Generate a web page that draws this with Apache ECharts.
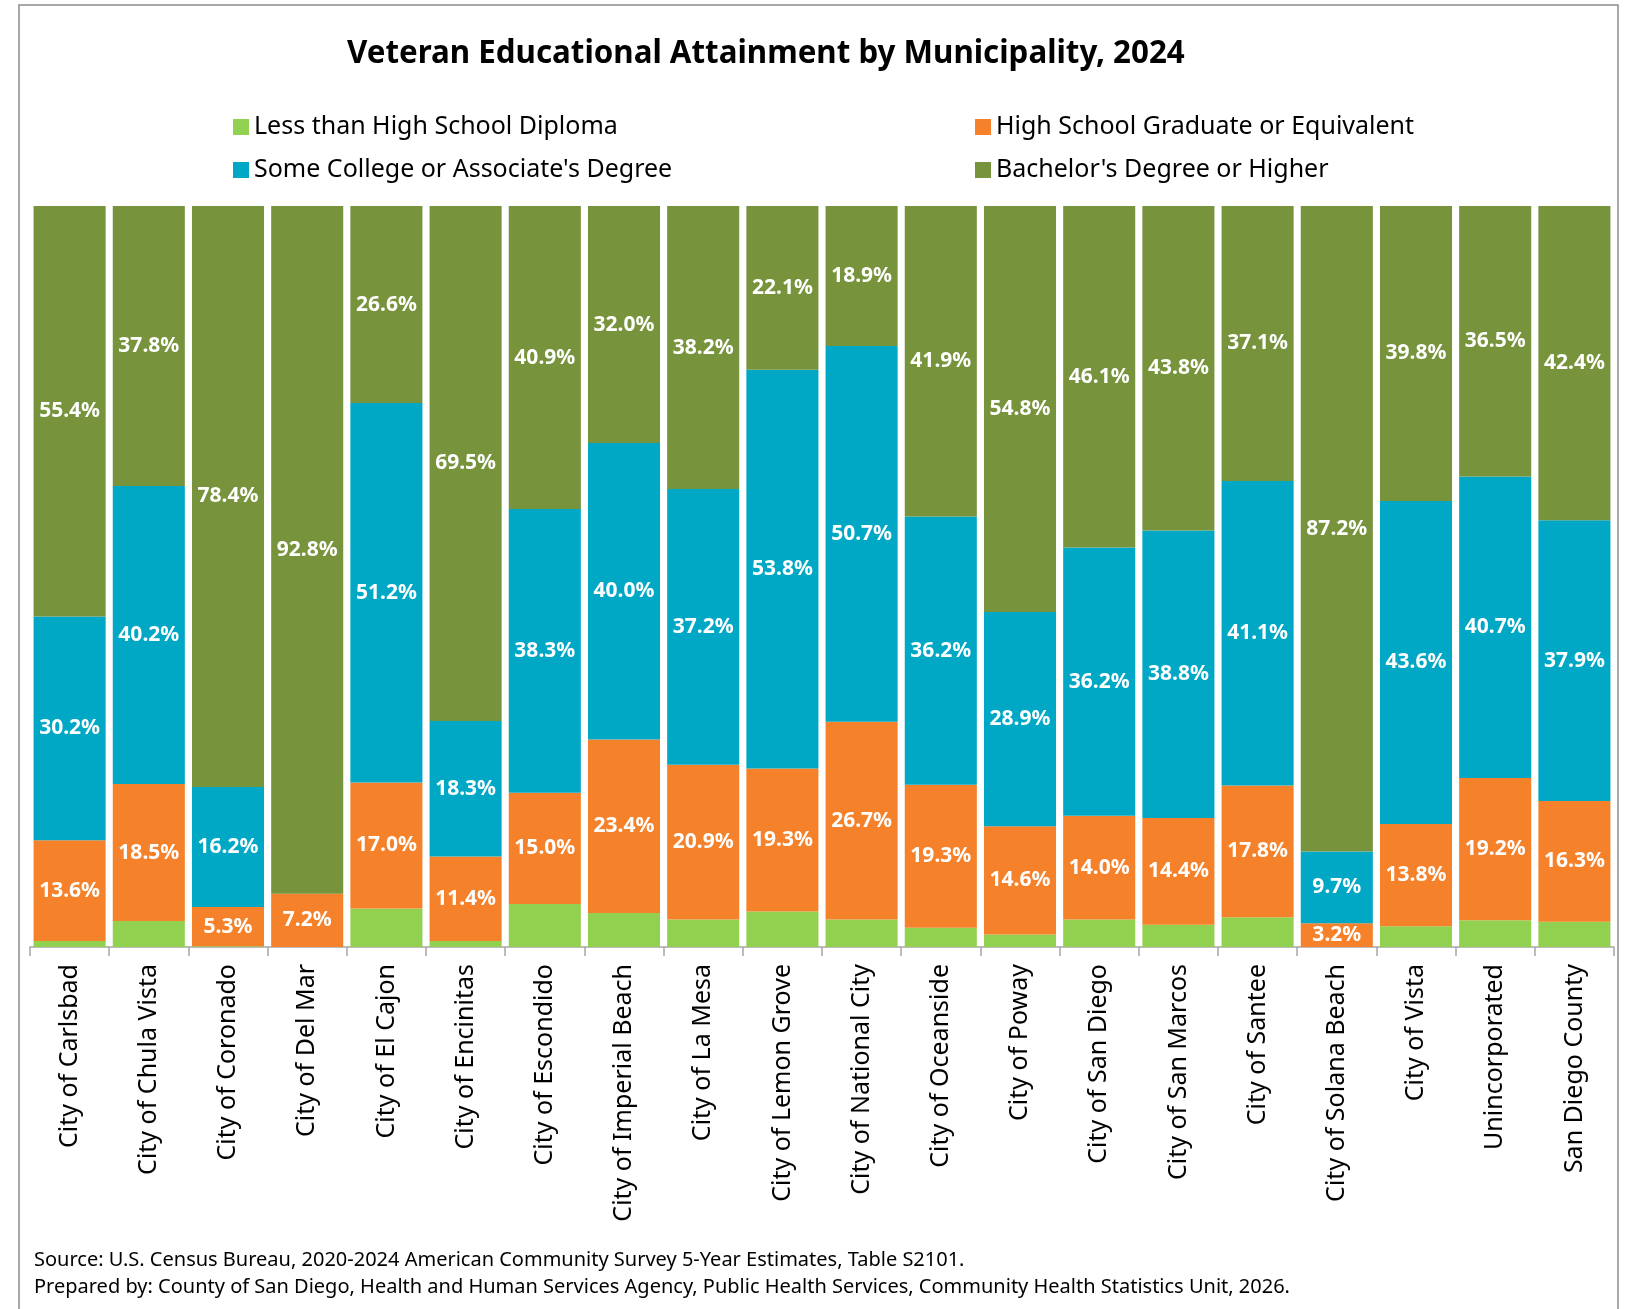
<!DOCTYPE html>
<html>
<head>
<meta charset="utf-8">
<script src="https://cdn.jsdelivr.net/npm/echarts@6/dist/echarts.min.js"></script>
<style>
  html, body { margin: 0; padding: 0; background: #fff; }
  #chart { width: 1626px; height: 1309px; }
</style>
</head>
<body>
<div id="chart"></div>
<script>
const categories = [
  'City of Carlsbad', 'City of Chula Vista', 'City of Coronado', 'City of Del Mar',
  'City of El Cajon', 'City of Encinitas', 'City of Escondido', 'City of Imperial Beach',
  'City of La Mesa', 'City of Lemon Grove', 'City of National City', 'City of Oceanside',
  'City of Poway', 'City of San Diego', 'City of San Marcos', 'City of Santee',
  'City of Solana Beach', 'City of Vista', 'Unincorporated', 'San Diego County'
];

// Percent of veterans by highest level of education
const lessThanHS   = [0.8, 3.5, 0.1, 0.0, 5.2, 0.8, 5.8, 4.6, 3.7, 4.8, 3.7, 2.6, 1.7, 3.7, 3.0, 4.0, 0.0, 2.8, 3.6, 3.4];
const hsGraduate   = [13.6, 18.5, 5.3, 7.2, 17.0, 11.4, 15.0, 23.4, 20.9, 19.3, 26.7, 19.3, 14.6, 14.0, 14.4, 17.8, 3.2, 13.8, 19.2, 16.3];
const someCollege  = [30.2, 40.2, 16.2, 0.0, 51.2, 18.3, 38.3, 40.0, 37.2, 53.8, 50.7, 36.2, 28.9, 36.2, 38.8, 41.1, 9.7, 43.6, 40.7, 37.9];
const bachelors    = [55.4, 37.8, 78.4, 92.8, 26.6, 69.5, 40.9, 32.0, 38.2, 22.1, 18.9, 41.9, 54.8, 46.1, 43.8, 37.1, 87.2, 39.8, 36.5, 42.4];

const seriesNames = [
  'Less than High School Diploma',
  'High School Graduate or Equivalent',
  "Some College or Associate's Degree",
  "Bachelor's Degree or Higher"
];
const colors = ['#92D050', '#F5822A', '#00A8C6', '#77933C'];

const FONT = 'Noto Sans';

function pctLabel(p) {
  return p.value > 0 ? p.value.toFixed(1) + '%' : '';
}

function makeSeries(name, data, color, showLabel) {
  return {
    name: name,
    type: 'bar',
    stack: 'total',
    data: data,
    barCategoryGap: '9%',
    itemStyle: { color: color },
    label: {
      show: showLabel,
      position: 'inside',
      formatter: pctLabel,
      color: '#fff',
      fontFamily: FONT,
      fontWeight: 'bold',
      fontSize: 21
    },
    emphasis: { disabled: true }
  };
}

const legendText = { fontFamily: FONT, fontSize: 25, color: '#000', lineHeight: 28 };

const chart = echarts.init(document.getElementById('chart'));

chart.setOption({
  animation: false,
  backgroundColor: '#fff',
  title: {
    text: 'Veteran Educational Attainment by Municipality, 2024',
    left: 342,
    top: 34,
    textStyle: { fontFamily: FONT, fontWeight: 'bold', fontSize: 31.3, color: '#000' }
  },
  legend: [
    {
      data: [seriesNames[0], seriesNames[2]],
      orient: 'vertical',
      left: 228,
      top: 108,
      itemWidth: 16,
      itemHeight: 16,
      itemGap: 15,
      icon: 'rect',
      selectedMode: false,
      textStyle: legendText
    },
    {
      data: [seriesNames[1], seriesNames[3]],
      orient: 'vertical',
      left: 970,
      top: 108,
      itemWidth: 16,
      itemHeight: 16,
      itemGap: 15,
      icon: 'rect',
      selectedMode: false,
      textStyle: legendText
    }
  ],
  grid: { left: 30, right: 12, top: 206, bottom: 362, containLabel: false },
  xAxis: {
    type: 'category',
    data: categories,
    axisLine: { lineStyle: { color: '#A6A6A6', width: 1.5 } },
    axisTick: { show: true, length: 9, lineStyle: { color: '#A6A6A6', width: 1.5 } },
    axisLabel: {
      rotate: 90,
      interval: 0,
      margin: 17,
      fontFamily: FONT,
      fontSize: 25,
      color: '#000'
    }
  },
  yAxis: {
    type: 'value',
    min: 0,
    max: 100,
    show: false,
    splitLine: { show: false }
  },
  series: [
    makeSeries(seriesNames[0], lessThanHS, colors[0], false),
    makeSeries(seriesNames[1], hsGraduate, colors[1], true),
    makeSeries(seriesNames[2], someCollege, colors[2], true),
    makeSeries(seriesNames[3], bachelors, colors[3], true)
  ],
  graphic: [
    {
      type: 'rect',
      shape: { x: 19, y: 5, width: 1599, height: 1320 },
      style: { fill: 'none', stroke: '#8C8C8C', lineWidth: 1.5 },
      silent: true,
      z: -1
    },
    {
      type: 'text',
      left: 34,
      top: 1250,
      style: {
        text: 'Source: U.S. Census Bureau, 2020-2024 American Community Survey 5-Year Estimates, Table S2101.',
        fontFamily: FONT, fontSize: 20, fill: '#000'
      }
    },
    {
      type: 'text',
      left: 34,
      top: 1277,
      style: {
        text: 'Prepared by: County of San Diego, Health and Human Services Agency, Public Health Services, Community Health Statistics Unit, 2026.',
        fontFamily: FONT, fontSize: 20, fill: '#000'
      }
    }
  ]
});
</script>
</body>
</html>
